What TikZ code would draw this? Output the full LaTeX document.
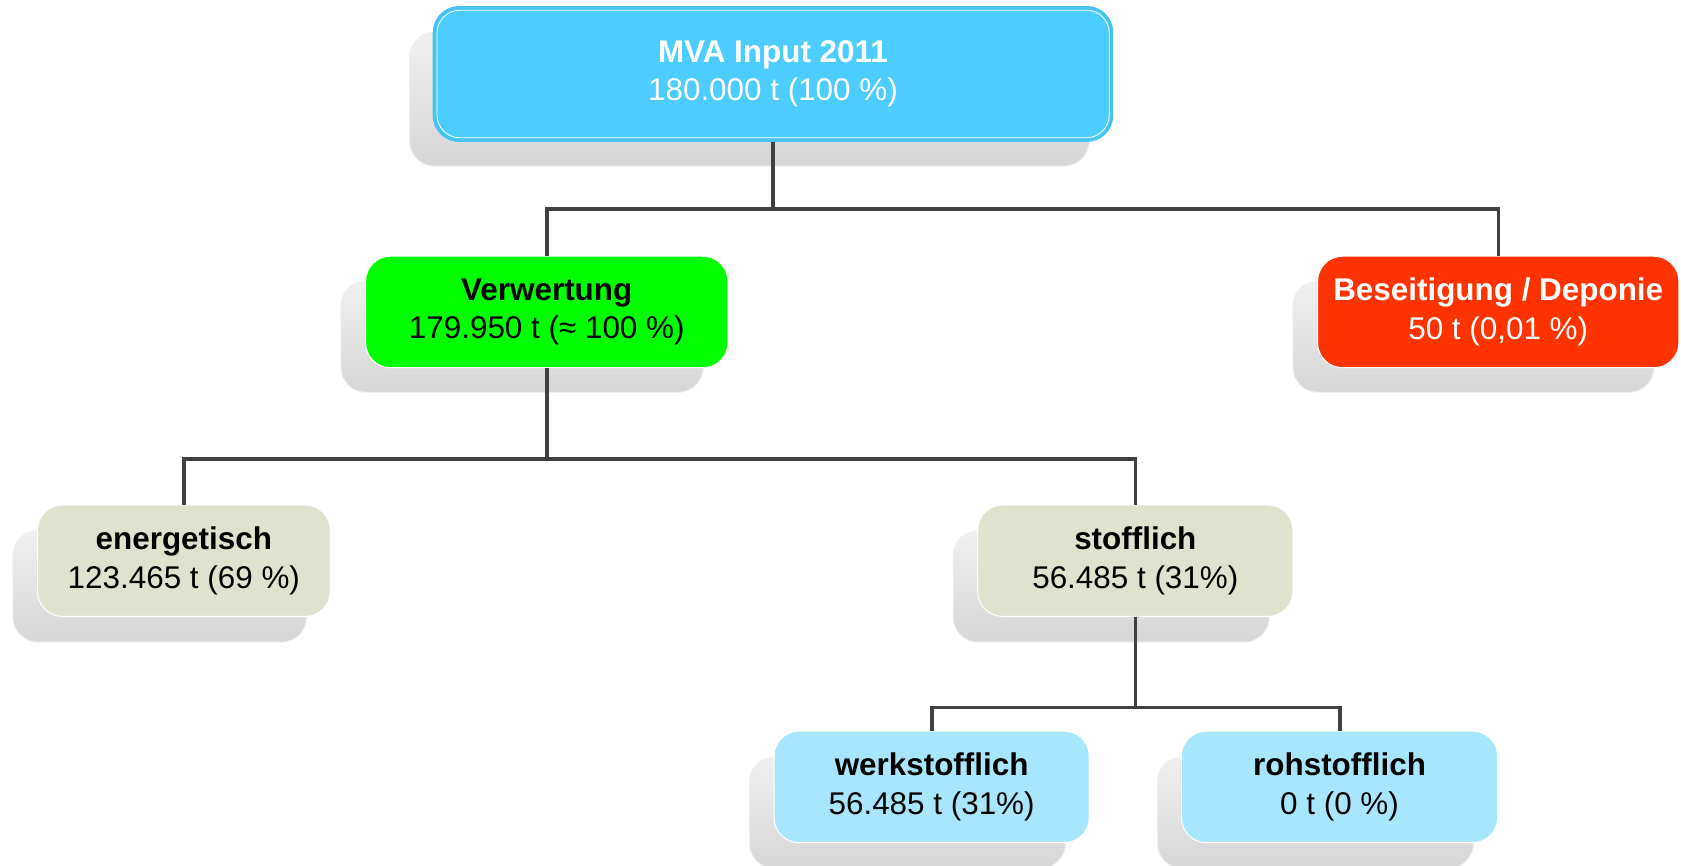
\documentclass[tikz,border=0pt]{standalone}
\usepackage{fontspec}
\setmainfont{Liberation Sans}
\definecolor{topfill}{HTML}{4DCCFF}
\definecolor{topedge}{HTML}{45C3F2}
\definecolor{verwfill}{HTML}{00FF00}
\definecolor{besfill}{HTML}{FF3300}
\definecolor{olivefill}{HTML}{DFE3CD}
\definecolor{paleblue}{HTML}{A8E6FE}
\definecolor{shadetop}{HTML}{F0F0F0}
\definecolor{shadebot}{HTML}{D6D6D6}
\definecolor{linecol}{HTML}{404040}
\begin{document}
\begin{tikzpicture}[x=1pt,y=-1pt,scale=1.072,
  every node/.append style={transform shape},
  box/.style={rectangle, rounded corners=25pt, draw=white, line width=1pt,
    align=center, inner sep=0pt, font=\fontsize{29.3}{36}\selectfont},
  shadowbox/.style={rectangle, rounded corners=25pt, top color=shadetop,
    bottom color=shadebot, draw=shadetop, line width=1pt, inner sep=0pt},
  conn/.style={draw=linecol, line width=3.4pt}]
\useasboundingbox (0,0) rectangle (1568,807);
% shadows
\node[shadowbox, minimum width=634pt, minimum height=125pt] (stop) at (699,92.5) {};
\node[shadowbox, minimum width=338pt, minimum height=104pt] (sverw) at (487,314) {};
\node[shadowbox, minimum width=337pt, minimum height=104pt] (sbes) at (1374.5,314) {};
\node[shadowbox, minimum width=274pt, minimum height=104pt] (sener) at (149,547) {};
\node[shadowbox, minimum width=295pt, minimum height=104pt] (sstoff) at (1036.5,547) {};
\node[shadowbox, minimum width=295pt, minimum height=104pt] (swerk) at (846.5,758) {};
\node[shadowbox, minimum width=295pt, minimum height=104pt] (sroh) at (1227,758) {};
% main boxes
\node[box, draw=topedge, line width=3pt, fill=topfill, text=white,
  minimum width=632pt, minimum height=124pt] (top) at (721,69)
  {\textbf{MVA Input 2011}\\180.000 t (100 \%)};
\draw[white, line width=0.8pt, rounded corners=23pt]
  ([shift={(4pt,-4pt)}]top.north west) rectangle ([shift={(-4pt,4pt)}]top.south east);
\node[box, fill=verwfill, minimum width=338pt, minimum height=104pt] (verw) at (510,291)
  {\textbf{Verwertung}\\179.950 t (≈ 100 \%)};
\node[box, fill=besfill, text=white, minimum width=337pt, minimum height=104pt] (bes) at (1397.5,291)
  {\textbf{Beseitigung / Deponie}\\50 t (0,01 \%)};
\node[box, fill=olivefill, minimum width=273pt, minimum height=104pt] (ener) at (171.5,523)
  {\textbf{energetisch}\\123.465 t (69 \%)};
\node[box, fill=olivefill, minimum width=294pt, minimum height=104pt] (stoff) at (1059,523)
  {\textbf{stofflich}\\56.485 t (31\%)};
\node[box, fill=paleblue, minimum width=294pt, minimum height=104pt] (werk) at (869,734)
  {\textbf{werkstofflich}\\56.485 t (31\%)};
\node[box, fill=paleblue, minimum width=295pt, minimum height=104pt] (roh) at (1249.5,734)
  {\textbf{rohstofflich}\\0 t (0 \%)};
% junctions
\coordinate (j1) at (721,195);
\coordinate (j2) at (510,428);
\coordinate (j3) at (1059,660);
% connectors
\draw[conn] (top.south) -- (j1);
\draw[conn] (verw.north) |- (j1) -| (bes.north);
\draw[conn] (verw.south) -- (j2);
\draw[conn] (ener.north) |- (j2) -| (stoff.north);
\draw[conn] (stoff.south) -- (j3);
\draw[conn] (werk.north) |- (j3) -| (roh.north);
\end{tikzpicture}
\end{document}
